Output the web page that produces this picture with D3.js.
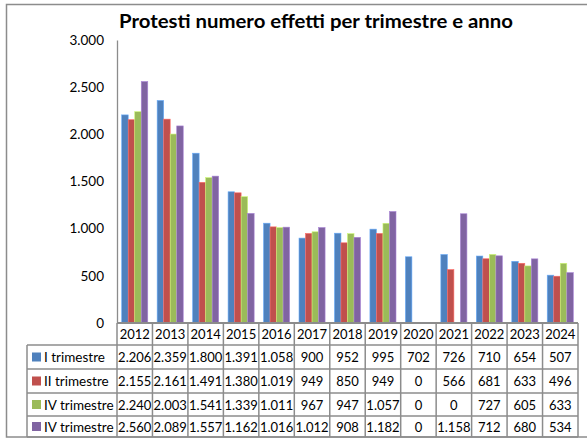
<!DOCTYPE html>
<html>
<head>
<meta charset="utf-8">
<script src="https://cdn.jsdelivr.net/npm/d3@7"></script>
<style>
  body { margin: 0; background: #fff; }
  text { font-family: Lato, "Open Sans", sans-serif; fill: #000; }
</style>
</head>
<body>
<div id="chart"></div>
<script>
'use strict';

var years = ['2012', '2013', '2014', '2015', '2016', '2017', '2018', '2019', '2020', '2021', '2022', '2023', '2024'];
var seriesNames = ['I trimestre', 'II trimestre', 'IV trimestre', 'IV trimestre'];
var q1 = [2206, 2359, 1800, 1391, 1058, 900, 952, 995, 702, 726, 710, 654, 507];
var q2 = [2155, 2161, 1491, 1380, 1019, 949, 850, 949, 0, 566, 681, 633, 496];
var q3 = [2240, 2003, 1541, 1339, 1011, 967, 947, 1057, 0, 0, 727, 605, 633];
var q4 = [2560, 2089, 1557, 1162, 1016, 1012, 908, 1182, 0, 1158, 712, 680, 534];
var yTicks = [0, 500, 1000, 1500, 2000, 2500, 3000];
var colors = ['#4f81bd', '#c0504d', '#9bbb59', '#8064a2'];

var series = [q1, q2, q3, q4];
var width = 587;
var height = 439;
var plotLeft = 117, plotRight = 578, plotTop = 40, plotBottom = 323;
var rowH = [323, 345, 369, 393, 416, 437];
var legendLeft = 27;
var lineColor = '#8c8c8c';

var fmt = d3.formatLocale({ decimal: ',', thousands: '.', grouping: [3], currency: ['€', ''] }).format(',d');

var svg = d3.select('#chart')
  .append('svg')
  .attr('width', width)
  .attr('height', height);

// chart frame
svg.append('rect')
  .attr('x', 6.5).attr('y', 4.5)
  .attr('width', 590).attr('height', 432.5)
  .attr('fill', '#fff')
  .attr('stroke', lineColor)
  .attr('stroke-width', 1.5);

svg.append('text')
  .attr('x', 316)
  .attr('y', 28)
  .attr('text-anchor', 'middle')
  .attr('textLength', 394)
  .attr('lengthAdjust', 'spacingAndGlyphs')
  .style('font-size', '19.5px')
  .style('font-weight', 'bold')
  .text('Protesti numero effetti per trimestre e anno');

var x0 = d3.scaleBand().domain(years).range([plotLeft, plotRight]);
var x1 = d3.scaleBand().domain(d3.range(series.length))
  .range([0, x0.bandwidth()])
  .paddingOuter(0.72).paddingInner(0);
var y = d3.scaleLinear().domain([0, 3000]).range([plotBottom, plotTop]);

// y axis
var yAxis = svg.append('g')
  .attr('transform', 'translate(' + plotLeft + ',0)')
  .call(d3.axisLeft(y).tickValues(yTicks).tickFormat(fmt).tickSize(0).tickPadding(13));
yAxis.select('.domain').attr('stroke', lineColor).attr('stroke-width', 1.3);
yAxis.selectAll('text').style('font-size', '13.5px').style('font-family', 'Lato, sans-serif');

// bars
var groups = svg.selectAll('g.year')
  .data(years)
  .enter()
  .append('g')
  .attr('class', 'year')
  .attr('transform', function(d) { return 'translate(' + x0(d) + ',0)'; });

groups.selectAll('rect')
  .data(function(d, i) { return series.map(function(s, k) { return { k: k, v: s[i] }; }); })
  .enter()
  .append('rect')
  .filter(function(d) { return d.v > 0; })
  .attr('x', function(d) { return x1(d.k); })
  .attr('y', function(d) { return y(d.v); })
  .attr('width', x1.bandwidth())
  .attr('height', function(d) { return y(0) - y(d.v); })
  .attr('fill', function(d) { return colors[d.k]; })
  .attr('stroke', function(d) { return d3.color(colors[d.k]).brighter(0.8); })
  .attr('stroke-width', 0.6);

// data table
var table = svg.append('g');

table.append('line')
  .attr('x1', plotLeft).attr('x2', plotRight)
  .attr('y1', rowH[0]).attr('y2', rowH[0])
  .attr('stroke', lineColor).attr('stroke-width', 2);

rowH.slice(1).forEach(function(yy) {
  table.append('line')
    .attr('x1', legendLeft).attr('x2', plotRight)
    .attr('y1', yy).attr('y2', yy)
    .attr('stroke', lineColor).attr('stroke-width', 1.5);
});

x0.domain().forEach(function(d) {
  table.append('line')
    .attr('x1', x0(d)).attr('x2', x0(d))
    .attr('y1', rowH[0]).attr('y2', rowH[5])
    .attr('stroke', lineColor).attr('stroke-width', 1.5);
});
table.append('line')
  .attr('x1', plotRight).attr('x2', plotRight)
  .attr('y1', rowH[0]).attr('y2', rowH[5])
  .attr('stroke', lineColor).attr('stroke-width', 1.5);
table.append('line')
  .attr('x1', legendLeft).attr('x2', legendLeft)
  .attr('y1', rowH[1]).attr('y2', rowH[5])
  .attr('stroke', lineColor).attr('stroke-width', 1.5);

table.selectAll('text.year')
  .data(years)
  .enter()
  .append('text')
  .attr('class', 'year')
  .attr('x', function(d) { return x0(d) + x0.bandwidth() / 2; })
  .attr('y', (rowH[0] + rowH[1]) / 2 + 5)
  .attr('text-anchor', 'middle')
  .style('font-size', '13px')
  .text(function(d) { return d; });

series.forEach(function(s, k) {
  var cy = (rowH[k + 1] + rowH[k + 2]) / 2;
  table.append('rect')
    .attr('x', 32).attr('y', cy - 4.5)
    .attr('width', 9).attr('height', 9)
    .attr('fill', colors[k]);
  table.append('text')
    .attr('x', 44).attr('y', cy + 5)
    .style('font-size', '13.5px')
    .text(seriesNames[k]);
  table.selectAll('text.v' + k)
    .data(s)
    .enter()
    .append('text')
    .attr('class', 'v' + k)
    .attr('x', function(d, i) { return x0(years[i]) + x0.bandwidth() / 2; })
    .attr('y', cy + 5)
    .attr('text-anchor', 'middle')
    .style('font-size', '13px')
    .text(function(d) { return fmt(d); });
});
</script>
</body>
</html>
